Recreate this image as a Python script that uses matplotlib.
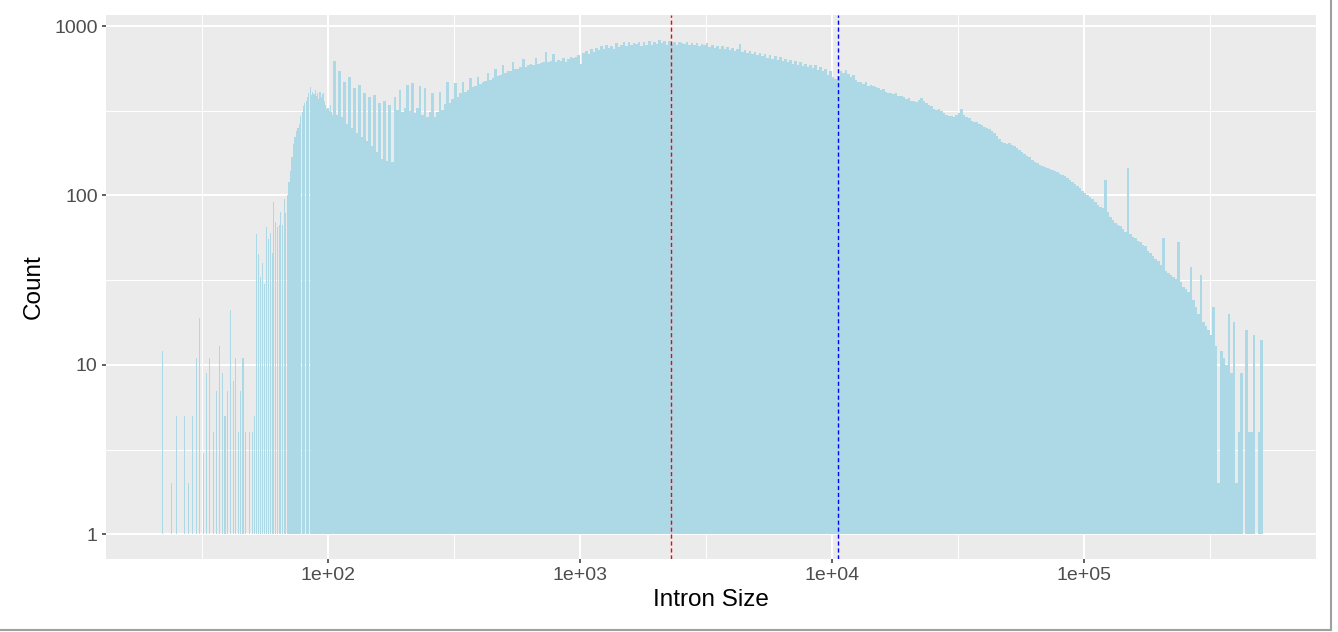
import matplotlib.pyplot as plt
import numpy as np
from matplotlib.lines import Line2D

plt.rcParams['font.family'] = ['Liberation Sans', 'DejaVu Sans']

# intron sizes 22..104 bp, one bar per size
small_sizes = np.arange(22, 105)
small_counts = np.array([
    12, 0, 2, 5, 0, 5, 2, 5,
    11, 19, 3, 9, 11, 4, 7, 13, 9, 5,
    7, 21, 8, 11, 4, 7, 11, 4, 0, 4,
    4, 5, 59, 45, 33, 40, 30, 65, 55, 60,
    46, 92, 70, 65, 67, 80, 67, 95, 79, 100,
    120, 140, 168, 200, 220, 239, 250, 264, 293, 310,
    337, 350, 360, 380, 400, 437, 390, 410, 395, 420,
    385, 400, 370, 410, 380, 395, 405, 360, 340, 322,
    330, 315, 340, 310, 300])

# larger introns, counts per log10 bin (0.01 wide, starting at 10^2.02)
log_bin_start = 2.02
log_bin_width = 0.01
main_counts = np.array([
    620, 300, 540, 290, 470, 265, 500, 250, 430, 235,
    450, 220, 400, 210, 380, 195, 390, 180, 350, 165,
    360, 160, 340, 158, 380, 320, 420, 310, 330, 450,
    315, 460, 305, 330, 440, 300, 430, 290, 310, 400,
    290, 310, 410, 320, 345, 470, 350, 370, 460, 380,
    400, 470, 410, 420, 490, 435, 440, 500, 455, 470,
    475, 530, 480, 495, 560, 505, 515, 590, 525, 540,
    545, 610, 555, 560, 575, 640, 575, 585, 600, 590,
    650, 600, 605, 615, 700, 610, 625, 680, 615, 630,
    620, 650, 615, 640, 660, 645, 660, 670, 600, 690,
    710, 680, 735, 700, 745, 720, 760, 730, 770, 740,
    765, 735, 790, 750, 775, 800, 760, 805, 770, 795,
    780, 810, 765, 800, 775, 815, 770, 805, 780, 830,
    790, 815, 770, 820, 785, 805, 775, 810, 790, 780,
    805, 775, 795, 770, 790, 760, 785, 770, 790, 755,
    775, 745, 765, 735, 760, 730, 750, 725, 745, 715,
    735, 785, 705, 725, 690, 715, 685, 705, 670, 690,
    665, 685, 650, 675, 640, 665, 630, 655, 620, 640,
    610, 630, 600, 620, 590, 610, 580, 600, 570, 590,
    565, 585, 550, 570, 540, 560, 515, 540, 500, 485,
    505, 545, 530, 550, 520, 500, 515, 480, 470, 465,
    455, 470, 445, 450, 440, 437, 430, 420, 425, 410,
    405, 400, 395, 400, 385, 387, 380, 370, 375, 360,
    360, 355, 365, 375, 360, 350, 340, 335, 325, 320,
    322, 315, 305, 300, 295, 293, 290, 300, 305, 325,
    300, 290, 285, 275, 272, 270, 265, 260, 255, 250,
    245, 240, 235, 225, 215, 206, 205, 200, 205, 198,
    195, 190, 185, 180, 176, 171, 168, 162, 158, 155,
    152, 150, 147, 145, 143, 142, 140, 137, 134, 132,
    130, 127, 124, 120, 117, 114, 110, 106, 103, 100,
    98, 95, 92, 88, 86, 84, 124, 80, 75, 72,
    69, 67, 66, 63, 61, 145, 59, 57, 56, 54,
    53, 51, 50, 47, 46, 44, 42, 41, 39, 56,
    36, 35, 34, 33, 32, 53, 31, 29, 28, 27,
    38, 24, 22, 20, 34, 18, 17, 16, 15, 22,
    13, 2, 12, 11, 10, 20, 9, 18, 2, 4,
    9, 1, 16, 4, 4, 15, 1, 4, 14])

median_size = 2300
mean_size = 10570

x_ticks = [1e2, 1e3, 1e4, 1e5]
x_labels = ["1e+02", "1e+03", "1e+04", "1e+05"]
y_ticks = [1, 10, 100, 1000]
y_labels = ["1", "10", "100", "1000"]

fill = "#ADD8E6"

fig = plt.figure(figsize=(13.38, 6.32), dpi=100)
ax = fig.add_axes([106 / 1338, 1 - 559 / 632, 1210 / 1338, 544 / 632])
ax.set_facecolor("#EBEBEB")

# single-size bars (thin, one histogram bin wide)
half = 0.0022
lo = small_sizes * 10 ** (-half)
hi = small_sizes * 10 ** half
keep = small_counts > 1
ax.bar(lo[keep], small_counts[keep] - 1, width=(hi - lo)[keep], bottom=1,
       align="edge", color=fill, linewidth=0)

edges = 10 ** (log_bin_start + log_bin_width * np.arange(len(main_counts) + 1))
ax.stairs(main_counts, edges, baseline=1, fill=True, color=fill, linewidth=0)

ax.axvline(median_size, color="red", linestyle=(0, (3, 2)), linewidth=1.0)
ax.axvline(mean_size, color="blue", linestyle=(0, (3, 2)), linewidth=1.0)

ax.set_xscale("log")
ax.set_yscale("log")
ax.set_xlim(10 ** 1.119, 10 ** 5.921)
ax.set_ylim(10 ** -0.146, 10 ** 3.065)

ax.set_xticks(x_ticks, x_labels)
ax.set_yticks(y_ticks, y_labels)
ax.set_xticks(10 ** np.array([1.5, 2.5, 3.5, 4.5, 5.5]), minor=True)
ax.set_yticks(10 ** np.array([0.5, 1.5, 2.5]), minor=True)
ax.xaxis.set_minor_formatter(plt.NullFormatter())
ax.yaxis.set_minor_formatter(plt.NullFormatter())

ax.set_axisbelow(True)
ax.grid(which="major", color="white", linewidth=1.5)
ax.grid(which="minor", color="white", linewidth=0.7)
for s in ax.spines.values():
    s.set_visible(False)

ax.tick_params(which="major", length=3, width=1.1, color="#333333",
               labelcolor="#4D4D4D", labelsize=14, pad=3)
ax.tick_params(which="minor", length=0)

ax.set_xlabel("Intron Size", fontsize=17.5, color="black", labelpad=3)
ax.set_ylabel("Count", fontsize=17.5, color="black", labelpad=7)

# screenshot border
fig.add_artist(Line2D([1331 / 1338] * 2, [1 - 630 / 632, 1], color="#a0a0a0", linewidth=1.5))
fig.add_artist(Line2D([0, 1331 / 1338], [1 - 630 / 632] * 2, color="#a0a0a0", linewidth=1.5))

plt.savefig("out.png", dpi=100)
